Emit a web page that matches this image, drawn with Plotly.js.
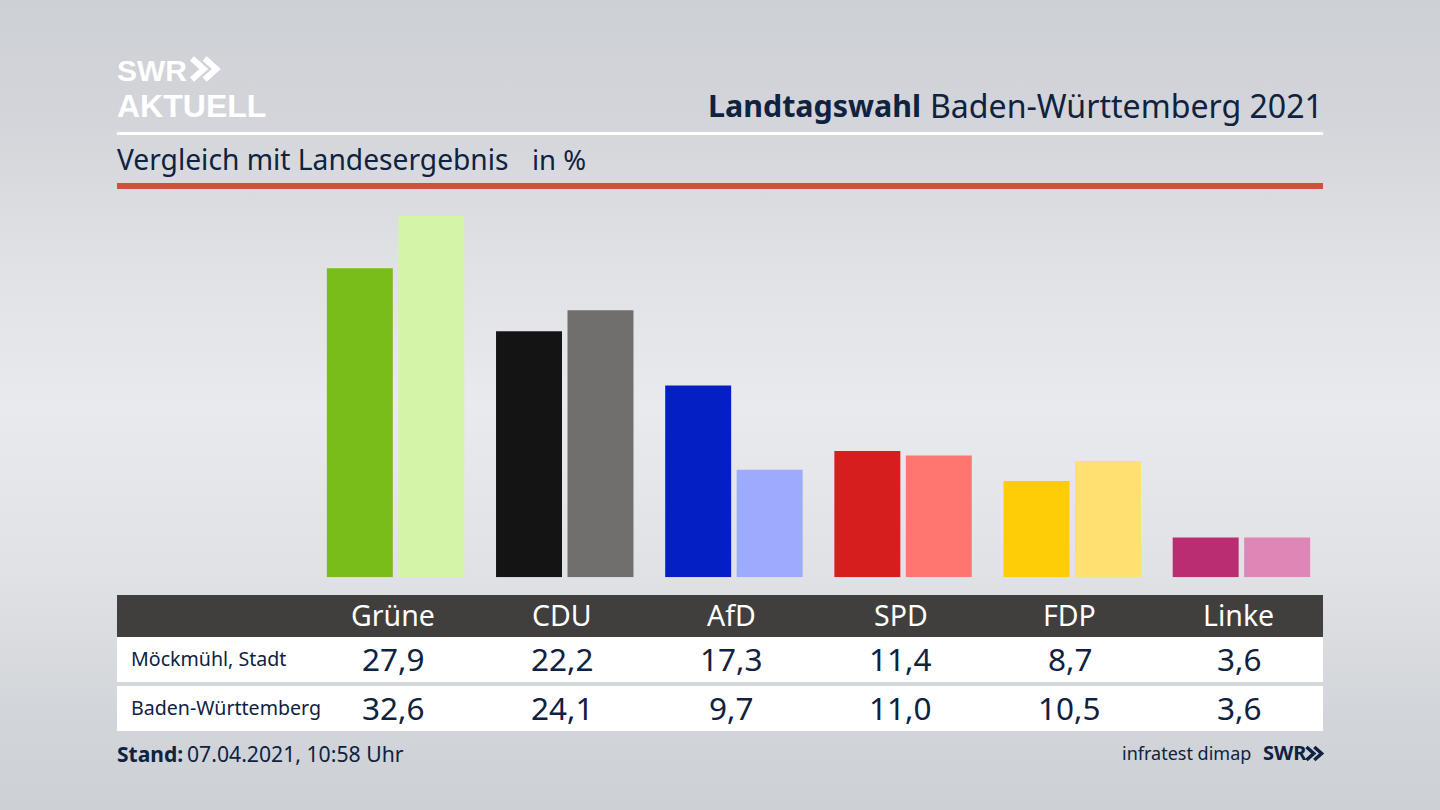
<!DOCTYPE html>
<html lang="de">
<head>
<meta charset="utf-8">
<title>Landtagswahl Baden-Württemberg 2021</title>
<script src="https://cdn.plot.ly/plotly-3.0.1.min.js"></script>
<style>
html,body{margin:0;padding:0;width:1440px;height:810px;overflow:hidden;}
body{background:linear-gradient(180deg,#cdd0d5 0%,#d3d5da 15%,#dfe1e5 32%,#e9eaee 50%,#e0e2e6 70%,#d2d5d9 88%,#cdd0d5 100%);}
#chart{width:1440px;height:810px;}
</style>
</head>
<body>
<div id="chart"></div>
<script>
const parties = ['Grüne','CDU','AfD','SPD','FDP','Linke'];
const localName = 'Möckmühl, Stadt';
const stateName = 'Baden-Württemberg';
const localValues = [27.9,22.2,17.3,11.4,8.7,3.6];
const stateValues = [32.6,24.1,9.7,11.0,10.5,3.6];
const localColors = ['#78bd1a','#141414','#0420c4','#d61e1e','#ffcc08','#bb2d72'];
const stateColors = ['#d4f5a8','#716f6d','#9dabff','#ff7670','#ffe070','#de86b5'];

const W = 1440, H = 810;
const FONT = '"Noto Sans", sans-serif';
const LOGO_FONT = '"Liberation Sans", sans-serif';
const INK = '#0f2240';
const px = v => v / W;
const py = v => 1 - v / H;
const fmt = v => v.toFixed(1).replace('.', ',');

function label(text, x, y, size, color, anchor, extra) {
  return Object.assign({
    text, xref:'paper', yref:'paper', x:px(x), y:py(y),
    xanchor:anchor || 'left', yanchor:'middle', showarrow:false,
    font:{family:(extra && extra.family) || FONT, size, color}, borderpad:0, borderwidth:0
  });
}
function band(x0, y0, x1, y1, color) {
  return {type:'rect', xref:'paper', yref:'paper', layer:'below',
    x0:px(x0), x1:px(x1), y0:py(y0), y1:py(y1), fillcolor:color, line:{width:0}};
}
function chevrons(x, y, h, stroke, color) {
  const w = h * 0.56, step = h * 0.6;
  const one = ox => `M${px(ox)},${py(y)} L${px(ox+w)},${py(y+h/2)} L${px(ox)},${py(y+h)}`;
  return {type:'path', xref:'paper', yref:'paper', path:one(x)+' '+one(x+step),
    line:{color, width:stroke}, fillcolor:'rgba(0,0,0,0)'};
}

const traces = [
  {type:'bar', name:localName, x:parties, y:localValues, marker:{color:localColors, line:{width:0}}},
  {type:'bar', name:stateName, x:parties, y:stateValues, marker:{color:stateColors, line:{width:0}}}
];

const annotations = [
  label('<b>SWR</b>', 117, 70.5, 30, '#ffffff', 'left', {family:LOGO_FONT}),
  label('<b>AKTUELL</b>', 117, 106.4, 32, '#ffffff', 'left', {family:LOGO_FONT}),
  label('<b>Landtagswahl</b>', 921, 105, 30.4, INK, 'right'),
  label('Baden-Württemberg 2021', 1323, 105, 32.1, INK, 'right'),
  label('Vergleich mit Landesergebnis', 117, 159.5, 28.2, INK),
  label('in %', 532, 159.5, 27.5, INK),
  label(localName, 131, 658.5, 19.6, INK),
  label(stateName, 131, 707.5, 19.6, INK),
  label('<b>Stand:</b>', 117, 753.5, 21, INK),
  label('07.04.2021, 10:58 Uhr', 187, 753.5, 21.2, INK),
  label('infratest dimap', 1251, 752.5, 18, INK, 'right'),
  label('<b>SWR</b>', 1263, 752.5, 20, INK)
];
parties.forEach((p, i) => {
  const cell = (text, y, size, color) => ({
    text, xref:'x', yref:'paper', x:i, y:py(y), xshift:-2.5,
    xanchor:'center', yanchor:'middle', showarrow:false,
    font:{family:FONT, size, color}
  });
  annotations.push(cell(p, 615, 28.5, '#ffffff'));
  annotations.push(cell(fmt(localValues[i]), 658, 31.5, INK));
  annotations.push(cell(fmt(stateValues[i]), 707, 31.5, INK));
});

const layout = {
  width:W, height:H,
  margin:{l:0,r:0,t:0,b:0,pad:0},
  paper_bgcolor:'rgba(0,0,0,0)', plot_bgcolor:'rgba(0,0,0,0)',
  showlegend:false, hovermode:false,
  barmode:'group', bargap:0.155, bargroupgap:0.077,
  xaxis:{type:'category', categoryorder:'array', categoryarray:parties,
    domain:[px(311),px(1326)], range:[-0.5,5.5], visible:false, fixedrange:true},
  yaxis:{domain:[py(577.3),py(200)], range:[0,34.05], visible:false, fixedrange:true},
  shapes:[
    band(117,132,1323,135,'#ffffff'),
    band(117,183,1323,189,'#cc5239'),
    band(117,595,1323,637,'#403f3d'),
    band(117,637,1323,682,'#ffffff'),
    band(117,686,1323,731,'#ffffff'),
    chevrons(192,58.5,21,6,'#ffffff'),
    chevrons(1306.5,747,13,3.5,INK)
  ],
  annotations
};
Plotly.newPlot('chart', traces, layout, {displayModeBar:false, staticPlot:true, responsive:false});
</script>
</body>
</html>
